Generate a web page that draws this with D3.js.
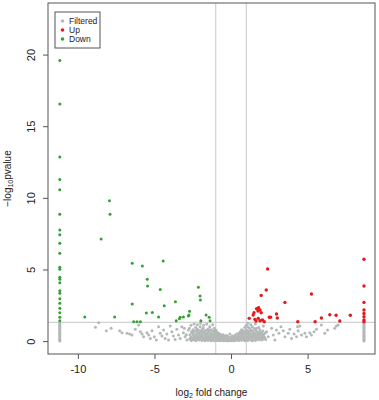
<!DOCTYPE html>
<html>
<head>
<meta charset="utf-8">
<script src="https://cdn.jsdelivr.net/npm/d3@7"></script>
<style>
  body { margin: 0; background: #fff; }
  svg { display: block; font-family: "Liberation Sans", Arial, sans-serif; }
</style>
</head>
<body>
<svg id="chart"></svg>
<script>
// Data: [log2 fold change, -log10 pvalue]
const downCol = -11.18 // all-zero samples pinned at the left edge
const upCol = 8.68 // and at the right edge

const downColValues = [19.58, 16.55, 12.85, 11.28, 10.56, 8.86, 7.76, 7.43, 6.83, 6.13, 5.15, 5.01,
  4.45, 4.31, 4.08, 3.52, 3.34, 2.96, 2.64, 2.29, 1.98, 1.66, 1.42]
const downPoints = [
  [-7.94, 9.79], [-7.90, 8.86], [-8.48, 7.13], [-6.45, 5.43], [-5.79, 5.24], [-4.43, 5.59],
  [-5.47, 4.31], [-5.45, 3.85], [-4.62, 3.61], [-6.45, 2.59], [-4.36, 2.47], [-3.63, 2.75],
  [-9.55, 1.68], [-7.60, 1.68], [-5.53, 1.96], [-5.14, 2.0], [-4.73, 1.68], [-6.36, 1.35],
  [-6.14, 1.35], [-5.92, 1.35], [-3.58, 1.42], [-3.37, 1.56], [-3.32, 1.66], [-3.11, 1.68],
  [-2.78, 1.75], [-2.71, 2.08], [-2.13, 3.76], [-2.02, 3.15], [-2.0, 2.87], [-2.75, 1.82],
  [-1.63, 1.82], [-1.43, 1.66], [-1.37, 1.42], [-1.97, 1.42]
]

const upColValues = [5.71, 3.85, 2.70, 2.17, 1.93, 1.70, 1.47, 1.35]
const upPoints = [
  [2.39, 5.03], [2.30, 3.57], [1.97, 3.19], [3.52, 2.70], [5.25, 3.29], [1.67, 2.26],
  [1.76, 2.10], [1.50, 1.98], [1.97, 1.98], [1.19, 1.59], [1.56, 1.52], [1.63, 1.40],
  [1.89, 1.42], [2.17, 1.35], [2.50, 1.66], [2.58, 1.66], [2.97, 1.89], [3.02, 1.61],
  [4.36, 1.35], [5.49, 1.35], [5.90, 1.61], [6.45, 1.84], [6.86, 1.80], [7.10, 1.40],
  [7.79, 1.80], [1.80, 2.33], [1.89, 2.17], [1.45, 1.82], [2.05, 1.47], [1.78, 1.59]
]

const edgeGrey = [0.0, 0.08, 0.15, 0.22, 0.3, 0.38, 0.45, 0.55, 0.62, 0.7, 0.8, 0.88, 0.95, 1.05, 1.12, 1.2, 1.27]
const filteredPoints = [
  // left scatter
  [-8.85, 0.96], [-8.64, 1.28], [-8.14, 0.72], [-7.83, 0.89], [-7.27, 0.72], [-7.12, 0.58],
  [-6.79, 0.54], [-6.62, 0.49], [-6.47, 0.42], [-6.25, 0.82], [-6.03, 1.12], [-5.92, 0.65],
  [-5.81, 0.49], [-5.71, 0.30], [-5.49, 0.58], [-5.38, 0.42], [-5.27, 0.19], [-5.16, 0.72],
  [-5.01, 0.30], [-4.88, 0.07], [-4.73, 1.0], [-4.62, 0.54], [-4.51, 0.35], [-4.41, 0.77],
  [-4.30, 0.19], [-4.19, 0.49], [-4.08, 0.07], [-3.97, 1.05], [-3.86, 0.65], [-3.76, 0.35],
  [-3.65, 0.12], [-3.54, 0.82], [-3.43, 0.42], [-3.32, 0.19], [-3.21, 1.0], [-3.11, 0.58],
  [-3.0, 0.30], [-2.88, 0.07], [-2.78, 0.77], [-3.05, 0.9], [-2.92, 0.45],
  // central blob
  [-2.7, 0.15], [-2.68, 0.45], [-2.72, 0.9], [-2.6, 0.05], [-2.62, 0.3], [-2.58, 0.65], [-2.61, 1.1],
  [-2.5, 0.2], [-2.52, 0.55], [-2.48, 0.8], [-2.4, 0.1], [-2.42, 0.35], [-2.38, 0.7], [-2.41, 1.2],
  [-2.3, 0.02], [-2.32, 0.25], [-2.28, 0.5], [-2.31, 0.95], [-2.2, 0.15], [-2.22, 0.4], [-2.18, 0.6],
  [-2.21, 0.85], [-2.19, 1.15], [-2.1, 0.08], [-2.12, 0.3], [-2.08, 0.55], [-2.11, 0.75],
  [-2.0, 0.2], [-2.02, 0.45], [-1.98, 0.65], [-2.01, 1.0], [-1.99, 1.25], [-1.9, 0.05], [-1.92, 0.28],
  [-1.88, 0.5], [-1.91, 0.8], [-1.8, 0.12], [-1.82, 0.35], [-1.78, 0.6], [-1.81, 0.9], [-1.79, 1.1],
  [-1.7, 0.02], [-1.72, 0.22], [-1.68, 0.42], [-1.71, 0.7], [-1.6, 0.1], [-1.62, 0.3], [-1.58, 0.5],
  [-1.61, 0.75], [-1.59, 1.2], [-1.5, 0.05], [-1.52, 0.18], [-1.48, 0.38], [-1.51, 0.58], [-1.49, 0.85],
  [-1.4, 0.12], [-1.42, 0.25], [-1.38, 0.45], [-1.41, 0.68], [-1.39, 1.0], [-1.3, 0.03], [-1.32, 0.2],
  [-1.28, 0.35], [-1.31, 0.55], [-1.29, 0.8], [-1.2, 0.08], [-1.22, 0.15], [-1.18, 0.3], [-1.21, 0.48],
  [-1.19, 0.7], [-1.2, 1.15], [-1.1, 0.02], [-1.12, 0.22], [-1.08, 0.4], [-1.11, 0.6], [-1.09, 0.9],
  [-1.0, 0.1], [-1.02, 0.18], [-0.98, 0.32], [-1.01, 0.5], [-0.99, 0.75], [-0.9, 0.05], [-0.92, 0.25],
  [-0.88, 0.42], [-0.91, 0.62], [-0.8, 0.12], [-0.82, 0.2], [-0.78, 0.35], [-0.81, 0.55],
  [-0.7, 0.03], [-0.72, 0.15], [-0.68, 0.3], [-0.71, 0.48], [-0.6, 0.08], [-0.62, 0.22], [-0.58, 0.4],
  [-0.5, 0.02], [-0.52, 0.12], [-0.48, 0.28], [-0.51, 0.45], [-0.4, 0.06], [-0.42, 0.18], [-0.38, 0.35],
  [-0.3, 0.1], [-0.32, 0.22], [-0.28, 0.4], [-0.2, 0.03], [-0.22, 0.15], [-0.18, 0.3],
  [-0.1, 0.08], [-0.12, 0.2], [-0.08, 0.5], [0.0, 0.05], [0.02, 0.12], [-0.02, 0.25],
  [0.1, 0.1], [0.12, 0.2], [0.08, 0.38], [0.2, 0.02], [0.22, 0.15], [0.18, 0.3],
  [0.3, 0.08], [0.32, 0.22], [0.28, 0.42], [0.4, 0.12], [0.42, 0.28], [0.38, 0.5],
  [0.5, 0.04], [0.52, 0.18], [0.48, 0.35], [0.51, 0.55], [0.6, 0.1], [0.62, 0.25], [0.58, 0.45],
  [0.61, 0.65], [0.7, 0.06], [0.72, 0.2], [0.68, 0.38], [0.71, 0.6], [0.69, 0.8], [0.8, 0.12],
  [0.82, 0.3], [0.78, 0.5], [0.81, 0.72], [0.9, 0.03], [0.92, 0.22], [0.88, 0.42], [0.91, 0.65],
  [0.89, 0.95], [1.0, 0.1], [1.02, 0.32], [0.98, 0.55], [1.01, 0.8], [0.99, 1.1], [1.1, 0.05],
  [1.12, 0.25], [1.08, 0.48], [1.11, 0.7], [1.09, 1.0], [1.1, 1.25], [1.2, 0.15], [1.22, 0.38],
  [1.18, 0.6], [1.21, 0.9], [1.3, 0.08], [1.32, 0.3], [1.28, 0.52], [1.31, 0.78], [1.29, 1.15],
  [1.4, 0.02], [1.42, 0.2], [1.38, 0.45], [1.41, 0.7], [1.39, 1.0], [1.5, 0.12], [1.52, 0.35],
  [1.48, 0.6], [1.51, 0.88], [1.6, 0.05], [1.62, 0.28], [1.58, 0.5], [1.61, 0.75], [1.59, 1.2],
  [1.7, 0.18], [1.72, 0.4], [1.68, 0.65], [1.8, 0.1], [1.82, 0.3], [1.78, 0.55], [1.81, 0.95],
  [1.9, 0.22], [1.92, 0.48], [1.88, 0.8], [2.0, 0.08], [2.02, 0.35], [1.98, 0.6],
  [2.1, 0.15], [2.12, 0.42], [2.08, 0.7], [2.11, 1.05], [2.2, 0.25], [2.22, 0.55],
  // dense core of the blob
  [-2.55, 0.1], [-2.45, 0.42], [-2.35, 0.15], [-2.25, 0.32], [-2.15, 0.22], [-2.05, 0.12],
  [-1.95, 0.38], [-1.85, 0.25], [-1.75, 0.12], [-1.65, 0.2], [-1.55, 0.3], [-1.45, 0.1],
  [-1.35, 0.28], [-1.25, 0.22], [-1.15, 0.12], [-1.05, 0.28], [-0.95, 0.15], [-0.85, 0.05],
  [-0.75, 0.22], [-0.65, 0.15], [-0.55, 0.32], [-0.45, 0.1], [-0.35, 0.02], [-0.25, 0.08],
  [-0.15, 0.02], [-0.05, 0.15], [0.05, 0.02], [0.15, 0.08], [0.25, 0.05], [0.35, 0.15],
  [0.45, 0.08], [0.55, 0.25], [0.65, 0.15], [0.75, 0.3], [0.85, 0.18], [0.95, 0.1],
  [1.05, 0.2], [1.15, 0.35], [1.25, 0.25], [1.35, 0.12], [1.45, 0.28], [1.55, 0.22],
  [1.65, 0.38], [1.75, 0.3], [1.85, 0.45], [1.95, 0.15], [2.05, 0.25], [2.15, 0.3],
  [-2.65, 0.22], [-2.45, 0.62], [-2.26, 0.72], [-2.06, 0.32], [-1.86, 0.68], [-1.66, 0.55],
  [-1.46, 0.72], [-1.26, 0.45], [-1.06, 0.7], [-0.86, 0.3], [-0.66, 0.45], [-0.46, 0.2],
  [-0.26, 0.18], [0.26, 0.28], [0.46, 0.22], [0.66, 0.5], [0.86, 0.55], [1.06, 0.62],
  [1.26, 0.68], [1.46, 0.5], [1.66, 0.9], [1.86, 0.62], [2.06, 0.5], [2.26, 0.12],
  // right scatter
  [2.32, 0.65], [2.43, 0.30], [2.65, 0.89], [2.76, 0.42], [2.86, 0.07], [2.97, 0.77],
  [3.13, 0.54], [3.26, 1.0], [3.41, 0.72], [3.52, 0.30], [3.73, 0.54], [3.84, 0.82],
  [3.95, 0.19], [4.12, 0.49], [4.28, 0.30], [4.38, 0.72], [4.34, 1.0], [4.49, 1.05],
  [4.60, 0.42], [4.82, 0.54], [4.93, 0.30], [5.14, 0.58], [5.25, 0.42], [5.42, 0.65],
  [5.58, 0.82], [5.90, 1.12], [6.12, 0.54], [6.30, 0.77], [6.77, 0.89], [6.88, 1.05], [6.99, 1.12]
]

const xTicks = [-10, -5, 0, 5]
const yTicks = [0, 5, 10, 15, 20]
const legendItems = ["Filtered", "Up", "Down"]

// Configurations
let width = 379
let height = 400
let marginTop = 3
let marginRight = 4
let marginBottom = 46
let marginLeft = 48
let xDomain = [-11.95, 9.4]
let yDomain = [-0.9, 23.6]
let fcCut = 1 // |log2 fold change| threshold
let pCut = -Math.log10(0.05) // p value threshold
let colors = {Filtered: "#b3b9b9", Up: "#e3191c", Down: "#35a035"}

const xScale = d3.scaleLinear(xDomain, [marginLeft, width - marginRight])
const yScale = d3.scaleLinear(yDomain, [height - marginBottom, marginTop])

const svg = d3.select("#chart")
    .attr("width", width)
    .attr("height", height)
    .attr("viewBox", [0, 0, width, height])

// threshold lines
const lines = svg.append("g")
    .attr("stroke", "#d2d2d2")
    .attr("stroke-width", 1.2)
lines.selectAll("line.v")
    .data([-fcCut, fcCut])
    .join("line")
    .attr("x1", d => xScale(d)).attr("x2", d => xScale(d))
    .attr("y1", yScale.range()[0]).attr("y2", yScale.range()[1])
lines.append("line")
    .attr("x1", xScale.range()[0]).attr("x2", xScale.range()[1])
    .attr("y1", yScale(pCut)).attr("y2", yScale(pCut))

// points
const filtered = filteredPoints
    .concat(edgeGrey.map(v => [downCol, v]))
    .concat(edgeGrey.map(v => [upCol, v]))
const down = downPoints.concat(downColValues.map(v => [downCol, v]))
const up = upPoints.concat(upColValues.map(v => [upCol, v]))

const groups = [
  {name: "Filtered", data: filtered, r: 1.5},
  {name: "Down", data: down, r: 1.5},
  {name: "Up", data: up, r: 1.7}
]
groups.forEach(g => {
  svg.append("g")
      .attr("fill", colors[g.name])
      .selectAll("circle")
      .data(g.data)
      .join("circle")
      .attr("cx", d => xScale(d[0]))
      .attr("cy", d => yScale(d[1]))
      .attr("r", g.r)
})

// box
svg.append("rect")
    .attr("x", xScale.range()[0])
    .attr("y", yScale.range()[1])
    .attr("width", xScale.range()[1] - xScale.range()[0])
    .attr("height", yScale.range()[0] - yScale.range()[1])
    .attr("fill", "none")
    .attr("stroke", "#555")

// axes
const xAxis = d3.axisBottom(xScale).tickValues(xTicks).tickSize(5).tickPadding(6)
    .tickFormat(d => String(d))
const yAxis = d3.axisLeft(yScale).tickValues(yTicks).tickSize(5).tickPadding(4)
    .tickFormat(d => String(d))

svg.append("g")
    .attr("transform", `translate(0,${height - marginBottom})`)
    .call(xAxis)
    .call(g => g.select(".domain").remove())
    .call(g => g.selectAll(".tick line").attr("stroke", "#555"))
    .call(g => g.selectAll(".tick text").attr("font-size", 11).attr("fill", "#222"))

svg.append("g")
    .attr("transform", `translate(${marginLeft},0)`)
    .call(yAxis)
    .call(g => g.select(".domain").remove())
    .call(g => g.selectAll(".tick line").attr("stroke", "#555"))
    .call(g => g.selectAll(".tick text")
        .attr("font-size", 11).attr("fill", "#222")
        .attr("text-anchor", "middle").attr("dy", null).attr("x", null)
        .attr("transform", "translate(-13,0) rotate(-90)"))

// axis titles
const xTitle = svg.append("text")
    .attr("x", (xScale.range()[0] + xScale.range()[1]) / 2)
    .attr("y", 396)
    .attr("text-anchor", "middle")
    .attr("font-size", 10)
    .attr("fill", "#222")
xTitle.append("tspan").text("log")
xTitle.append("tspan").attr("font-size", 7).attr("dy", 2).text("2")
xTitle.append("tspan").attr("dy", -2).text(" fold change")

const yTitle = svg.append("text")
    .attr("transform", `translate(11,${(yScale.range()[0] + yScale.range()[1]) / 2}) rotate(-90)`)
    .attr("text-anchor", "middle")
    .attr("font-size", 10)
    .attr("fill", "#222")
yTitle.append("tspan").text("\u2212log")
yTitle.append("tspan").attr("font-size", 7).attr("dy", 2).text("10")
yTitle.append("tspan").attr("dy", -2).text("pvalue")

// legend
const legend = svg.append("g").attr("transform", "translate(55,12)")
legend.append("rect")
    .attr("width", 45).attr("height", 36)
    .attr("fill", "#fff").attr("stroke", "#555")
const li = legend.selectAll("g.item")
    .data(legendItems)
    .join("g")
    .attr("transform", (d, i) => `translate(0,${9 + i * 9})`)
li.append("circle").attr("cx", 7.5).attr("r", 1.8).attr("fill", d => colors[d])
li.append("text").attr("x", 14).attr("dy", "0.35em")
    .attr("font-size", 8.5).attr("fill", "#222").text(d => d)
</script>
</body>
</html>
